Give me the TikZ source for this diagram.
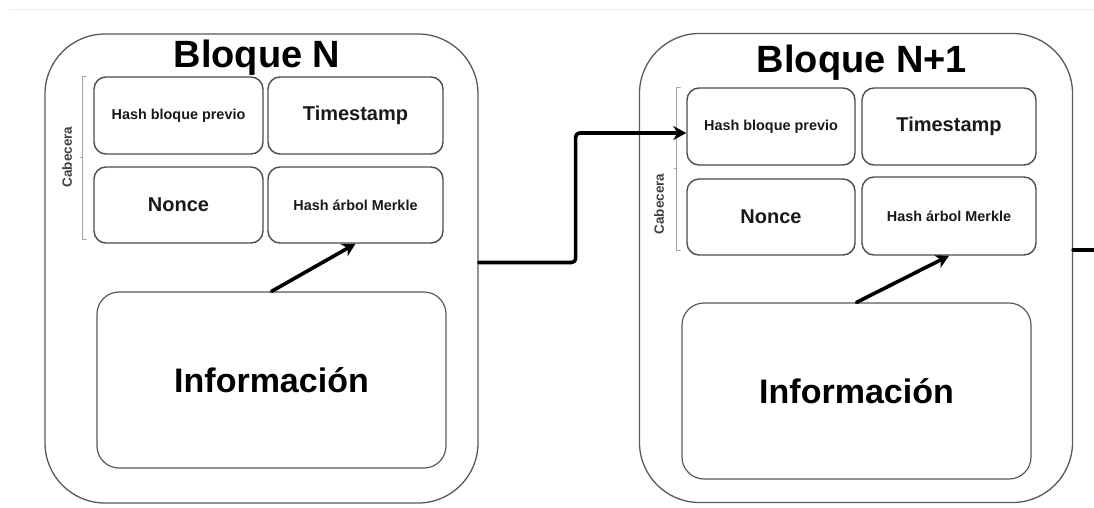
\documentclass[tikz,border=0pt]{standalone}
\usepackage{fontspec}
\setmainfont{Liberation Sans}
\usetikzlibrary{arrows.meta,positioning,calc}
\tikzset{
  blk/.style={draw=black!65,line width=1.3pt,rounded corners=60pt,
              minimum width=433pt,minimum height=469pt,inner sep=0pt},
  fld/.style={draw=black!70,line width=1.4pt,rounded corners=12pt,inner sep=0pt,
              text=black!90,font=\fontsize{14.4}{16}\selectfont\bfseries},
  fldL/.style={fld,font=\fontsize{20}{22}\selectfont\bfseries},
  dat/.style={draw=black!65,line width=1.2pt,rounded corners=22pt,inner sep=0pt,
              minimum width=349pt,minimum height=176pt,
              font=\fontsize{34}{36}\selectfont\bfseries},
  ttl/.style={anchor=base,inner sep=0pt,font=\fontsize{38}{40}\selectfont\bfseries},
  cab/.style={rotate=90,inner sep=0pt,text=black!75,
              font=\fontsize{13.5}{15}\selectfont\bfseries},
  brk/.style={draw=black!35,line width=0.8pt},
  lnk/.style={line width=3.6pt,-{Stealth[length=13pt,width=14pt,inset=4pt]}},
  every picture/.style={line cap=round,line join=round}}
\begin{document}
\begin{tikzpicture}[x=1pt,y=-1pt]
  \useasboundingbox (0,0) rectangle (1094,507);
  \draw[black!8,line width=0.8pt] (10,9)--(1094,9);
  % Bloque N
  \node[blk] (bA) at (261.5,268.5){};
  \node[ttl] (tA) at (257,67){Bloque N};
  \node[fld,minimum width=169pt,minimum height=77pt] (hbA) at (178.5,115.5){Hash bloque previo};
  \node[fldL,minimum width=175pt,minimum height=77pt] (tsA) at (355.5,115.5){Timestamp};
  \node[fldL,minimum width=169pt,minimum height=76pt] (noA) at (178.5,205){Nonce};
  \node[fld,minimum width=175pt,minimum height=76pt] (mkA) at (355.5,205){Hash árbol Merkle};
  \node[dat] (inA) at (271.5,380){Información};
  \draw[brk] ([xshift=-7pt]hbA.north west) -- ++(-4,0) |- ([xshift=-7pt,yshift=4pt]noA.south west);
  \draw[brk] (83,157) -- ++(-3,0);
  \node[cab] (cA) at (67,157){Cabecera};
  \draw[lnk] (inA.north) -- (mkA.south);
  % Bloque N+1
  \node[blk] (bB) at (856,268){};
  \node[ttl] (tB) at (862,72){Bloque N+1};
  \node[fld,minimum width=168pt,minimum height=77pt] (hbB) at (771,126.5){Hash bloque previo};
  \node[fldL,minimum width=174pt,minimum height=77pt] (tsB) at (949,126.5){Timestamp};
  \node[fldL,minimum width=168pt,minimum height=76pt] (noB) at (771,217){Nonce};
  \node[fld,minimum width=174pt,minimum height=78pt] (mkB) at (949,216){Hash árbol Merkle};
  \node[dat] (inB) at (856.5,391){Información};
  \draw[brk] ([xshift=-6pt]hbB.north west) -- ++(-4,0) |- ([xshift=-6pt,yshift=5pt]noB.south west);
  \draw[brk] (677,168) -- ++(-3,0);
  \node[cab] (cB) at (659,204){Cabecera};
  \draw[lnk] (inB.north) -- (mkB.south);
  % enlaces
  \draw[lnk,rounded corners=4pt] ([yshift=6pt]bA.east) -- ++(97,0) |- ([yshift=-6.5pt]hbB.west);
  \coordinate (nx) at (1110,250);
  \draw[line width=3.6pt] ([yshift=18pt]bB.east) -- (nx);
\end{tikzpicture}
\end{document}
